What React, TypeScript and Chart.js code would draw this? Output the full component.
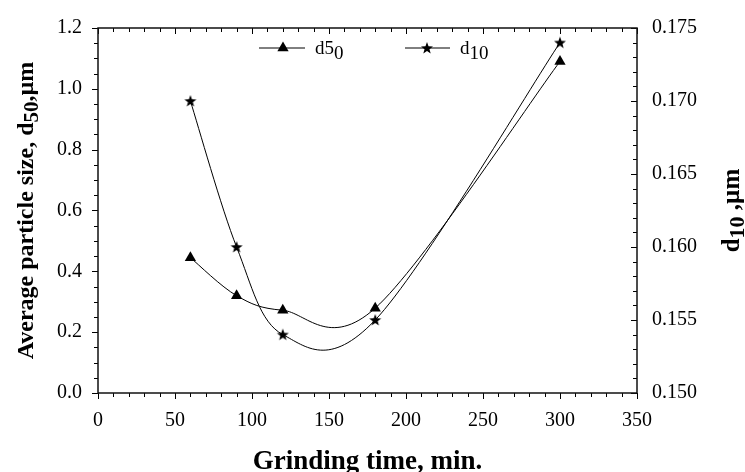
import React, { useEffect, useRef } from "react";
import { Chart, registerables } from "chart.js";

Chart.register(...registerables);

// ---- data ----
const grindingTime = [60, 90, 120, 180, 300];
const d50Values = [0.445, 0.32, 0.272, 0.279, 1.09];
const d10Values = [0.17, 0.16, 0.154, 0.155, 0.174];
const xTickValues = [0, 50, 100, 150, 200, 250, 300, 350];
const leftTickValues = [0, 0.2, 0.4, 0.6, 0.8, 1.0, 1.2];
const rightTickValues = [0.15, 0.155, 0.16, 0.165, 0.17, 0.175];
const xTitle = "Grinding time, min.";
const leftTitle = ["Average particle size, d", "50", ",\u00b5m"];
const rightTitle = ["d", "10", " ,\u00b5m"];
const legendD50 = ["d5", "0"];
const legendD10 = ["d", "10"];

const SERIF = '"Liberation Serif", "Times New Roman", serif';

function drawStarPath(ctx: CanvasRenderingContext2D, cx: number, cy: number, ro: number, ri: number) {
  ctx.beginPath();
  for (let i = 0; i < 10; i++) {
    const r = i % 2 === 0 ? ro : ri;
    const a = -Math.PI / 2 + (i * Math.PI) / 5;
    const x = cx + r * Math.cos(a);
    const y = cy + r * Math.sin(a);
    if (i === 0) ctx.moveTo(x, y);
    else ctx.lineTo(x, y);
  }
  ctx.closePath();
}

function makeStar(): HTMLCanvasElement {
  const c = document.createElement("canvas");
  c.width = 14;
  c.height = 14;
  const ctx = c.getContext("2d")!;
  drawStarPath(ctx, 7, 7.4, 6.3, 2.6);
  ctx.fillStyle = "#000";
  ctx.fill();
  return c;
}

function drawTriangle(ctx: CanvasRenderingContext2D, x: number, y: number, r: number) {
  ctx.beginPath();
  ctx.moveTo(x, y - r);
  ctx.lineTo(x + r * Math.sin((2 * Math.PI) / 3), y - r * Math.cos((2 * Math.PI) / 3));
  ctx.lineTo(x + r * Math.sin((4 * Math.PI) / 3), y - r * Math.cos((4 * Math.PI) / 3));
  ctx.closePath();
  ctx.fillStyle = "#000";
  ctx.fill();
}

// draws pieces [normal, sub, normal] starting at x (left), baseline 0
function drawSubText(
  ctx: CanvasRenderingContext2D,
  parts: string[],
  font: string,
  subFont: string,
  subShift: number,
  centered: boolean
) {
  ctx.font = font;
  const w0 = ctx.measureText(parts[0]).width;
  const w2 = parts[2] ? ctx.measureText(parts[2]).width : 0;
  ctx.font = subFont;
  const w1 = ctx.measureText(parts[1]).width;
  const total = w0 + w1 + w2;
  let x = centered ? -total / 2 : 0;
  ctx.textAlign = "left";
  ctx.textBaseline = "alphabetic";
  ctx.font = font;
  ctx.fillText(parts[0], x, 0);
  x += w0;
  ctx.font = subFont;
  ctx.fillText(parts[1], x, subShift);
  x += w1;
  if (parts[2]) {
    ctx.font = font;
    ctx.fillText(parts[2], x, 0);
  }
}

const splinePlugin = {
  id: "catmullRomCurve",
  beforeDatasetDraw(chart: any, args: any) {
    const meta = args.meta;
    const line = meta.dataset;
    if (!line) return;
    const pts = meta.data;
    const n = pts.length;
    for (let i = 0; i < n; i++) {
      const p = pts[i];
      const prev = pts[Math.max(0, i - 1)];
      const next = pts[Math.min(n - 1, i + 1)];
      const dx = (next.x - prev.x) / 6;
      const dy = (next.y - prev.y) / 6;
      p.cp1x = p.x - dx;
      p.cp1y = p.y - dy;
      p.cp2x = p.x + dx;
      p.cp2y = p.y + dy;
    }
    line._pointsUpdated = true;
    line._path = undefined;
  },
};

const framePlugin = {
  id: "frameTicks",
  beforeDatasetsDraw(chart: any) {
    const ctx: CanvasRenderingContext2D = chart.ctx;
    const { left, right, top, bottom } = chart.chartArea;
    const xs = chart.scales.x;
    const ys = chart.scales.y;
    const y1 = chart.scales.y1;
    ctx.save();
    ctx.strokeStyle = "#000";
    ctx.lineWidth = 1;
    for (let k = 0; k <= 35; k++) {
      const v = k * 10;
      const len = k % 5 === 0 ? 6 : 4;
      const px = Math.round(xs.getPixelForValue(v)) + 0.5;
      ctx.beginPath();
      ctx.moveTo(px, bottom);
      ctx.lineTo(px, bottom + len);
      ctx.moveTo(px, top);
      ctx.lineTo(px, top + len);
      ctx.stroke();
    }
    for (let k = 0; k <= 24; k++) {
      const v = k * 0.05;
      const len = k % 4 === 0 ? 6 : 4;
      const py = Math.round(ys.getPixelForValue(v)) + 0.5;
      ctx.beginPath();
      ctx.moveTo(left, py);
      ctx.lineTo(left - len, py);
      ctx.stroke();
    }
    for (let k = 0; k <= 25; k++) {
      const v = 0.15 + k * 0.001;
      const len = k % 5 === 0 ? 6 : 4;
      const py = Math.round(y1.getPixelForValue(v)) + 0.5;
      ctx.beginPath();
      ctx.moveTo(right, py);
      ctx.lineTo(right - len, py);
      ctx.stroke();
    }
    ctx.lineWidth = 1.5;
    ctx.strokeStyle = "#111";
    ctx.strokeRect(left, top, right - left, bottom - top);
    ctx.restore();
  },
  afterDraw(chart: any) {
    const ctx: CanvasRenderingContext2D = chart.ctx;
    const { left, right, top, bottom } = chart.chartArea;
    const midY = (top + bottom) / 2;
    ctx.save();
    ctx.fillStyle = "#000";
    ctx.font = `bold 27px ${SERIF}`;
    ctx.textAlign = "center";
    ctx.textBaseline = "middle";
    ctx.fillText(xTitle, (left + right) / 2, 462);
    ctx.save();
    ctx.translate(33, midY);
    ctx.rotate(-Math.PI / 2);
    drawSubText(ctx, leftTitle, `bold 24px ${SERIF}`, `bold 21px ${SERIF}`, 5, true);
    ctx.restore();
    ctx.save();
    ctx.translate(739, midY);
    ctx.rotate(-Math.PI / 2);
    drawSubText(ctx, rightTitle, `bold 25px ${SERIF}`, `bold 22px ${SERIF}`, 5, true);
    ctx.restore();

    const ly = 48;
    ctx.strokeStyle = "#000";
    ctx.lineWidth = 1;
    ctx.beginPath();
    ctx.moveTo(259, ly);
    ctx.lineTo(305, ly);
    ctx.moveTo(405, ly);
    ctx.lineTo(450, ly);
    ctx.stroke();
    drawTriangle(ctx, 283, ly, 6.5);
    drawStarPath(ctx, 427, ly + 0.4, 6.3, 2.6);
    ctx.fill();
    ctx.save();
    ctx.translate(315, 54);
    drawSubText(ctx, [legendD50[0], legendD50[1], ""], `19px ${SERIF}`, `19px ${SERIF}`, 5, false);
    ctx.restore();
    ctx.save();
    ctx.translate(460, 54);
    drawSubText(ctx, [legendD10[0], legendD10[1], ""], `19px ${SERIF}`, `19px ${SERIF}`, 5, false);
    ctx.restore();
    ctx.restore();
  },
};

export default function App() {
  const canvasRef = useRef<HTMLCanvasElement | null>(null);

  useEffect(() => {
    document.body.style.margin = "0";
    const canvas = canvasRef.current;
    if (!canvas) return;
    const star = makeStar();
    const tickFont = { family: SERIF, size: 20 };
    const chart = new Chart(canvas, {
      type: "line",
      data: {
        datasets: [
          {
            label: "d50",
            data: grindingTime.map((t, i) => ({ x: t, y: d50Values[i] })),
            yAxisID: "y",
            borderColor: "#000",
            borderWidth: 1,
            backgroundColor: "#000",
            pointStyle: "triangle",
            pointRadius: 6.5,
            pointBorderWidth: 0,
            pointBackgroundColor: "#000",
            tension: 0.4,
            fill: false,
          },
          {
            label: "d10",
            data: grindingTime.map((t, i) => ({ x: t, y: d10Values[i] })),
            yAxisID: "y1",
            borderColor: "#000",
            borderWidth: 1,
            backgroundColor: "#000",
            pointStyle: star as any,
            pointRadius: 7,
            pointBorderWidth: 0,
            tension: 0.4,
            fill: false,
          },
        ],
      },
      options: {
        responsive: false,
        animation: false,
        devicePixelRatio: 1,
        layout: { padding: { top: 19, left: 0, right: 0, bottom: 0 } },
        plugins: {
          legend: { display: false },
          tooltip: { enabled: false },
          title: { display: false },
        },
        scales: {
          x: {
            type: "linear",
            min: 0,
            max: 350,
            afterBuildTicks: (s: any) => {
              s.ticks = xTickValues.map((v) => ({ value: v }));
            },
            ticks: {
              font: tickFont,
              color: "#000",
              padding: 16,
              maxRotation: 0,
              callback: (v: any) => String(v),
            },
            grid: { display: false, drawTicks: false },
            border: { display: false },
            afterFit: (s: any) => {
              s.height = 79;
            },
          },
          y: {
            type: "linear",
            position: "left",
            min: 0,
            max: 1.2,
            afterBuildTicks: (s: any) => {
              s.ticks = leftTickValues.map((v) => ({ value: v }));
            },
            ticks: {
              font: tickFont,
              color: "#000",
              padding: 16,
              callback: (v: any) => Number(v).toFixed(1),
            },
            grid: { display: false, drawTicks: false },
            border: { display: false },
            afterFit: (s: any) => {
              s.width = 98;
            },
          },
          y1: {
            type: "linear",
            position: "right",
            min: 0.15,
            max: 0.175,
            afterBuildTicks: (s: any) => {
              s.ticks = rightTickValues.map((v) => ({ value: v }));
            },
            ticks: {
              font: tickFont,
              color: "#000",
              padding: 15,
              callback: (v: any) => Number(v).toFixed(3),
            },
            grid: { display: false, drawTicks: false },
            border: { display: false },
            afterFit: (s: any) => {
              s.width = 108;
            },
          },
        },
      },
      plugins: [splinePlugin, framePlugin],
    } as any);
    return () => {
      chart.destroy();
    };
  }, []);

  return (
    <div style={{ width: 745, height: 472, background: "#fff" }}>
      <canvas ref={canvasRef} width={745} height={472} style={{ display: "block" }} />
    </div>
  );
}
